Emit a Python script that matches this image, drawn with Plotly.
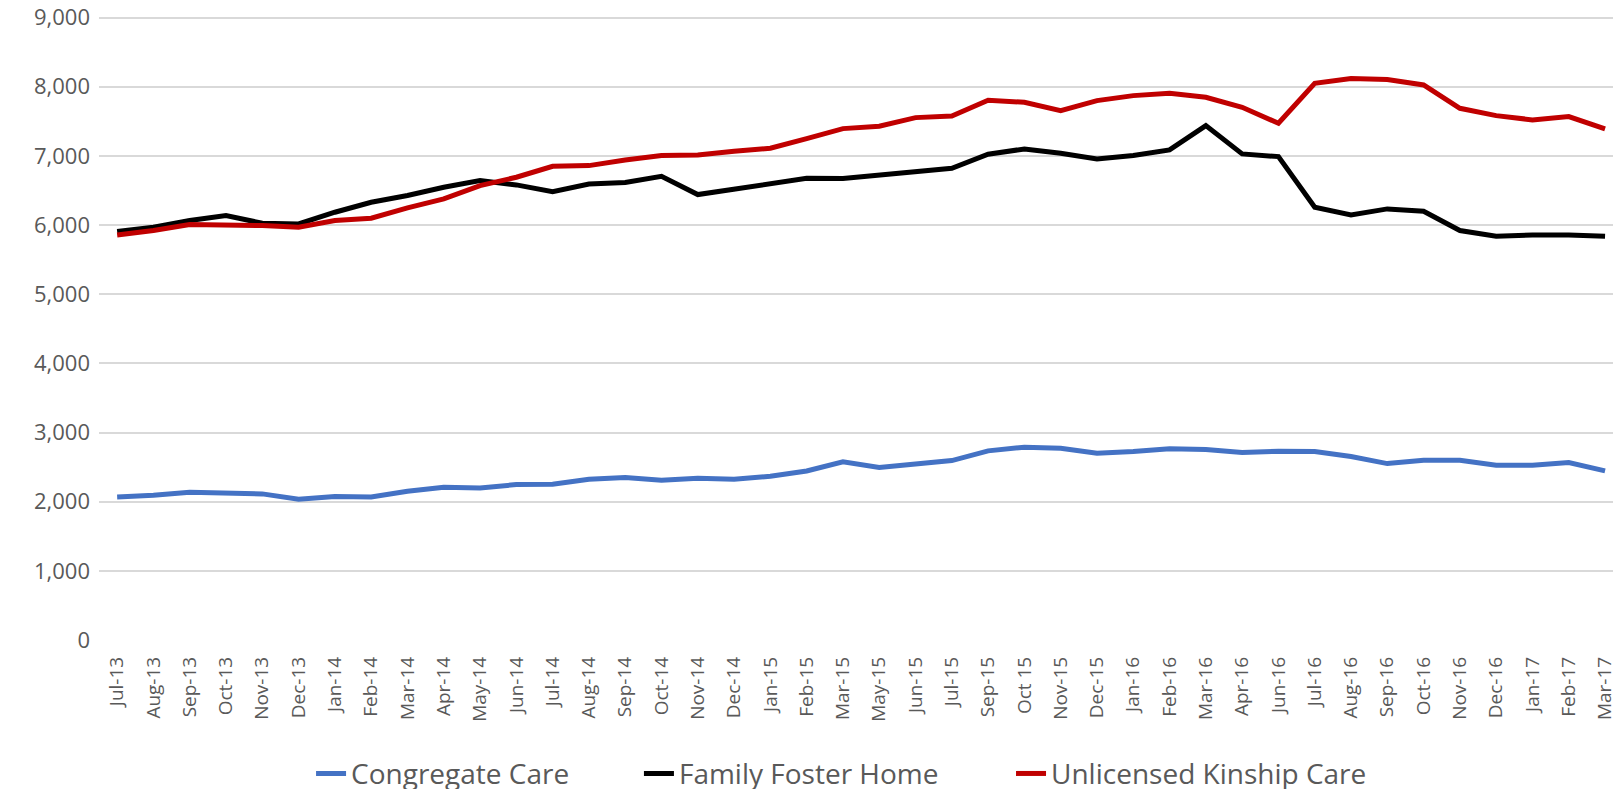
import plotly.graph_objects as go

categories = ["Jul-13", "Aug-13", "Sep-13", "Oct-13", "Nov-13", "Dec-13", "Jan-14", "Feb-14",
              "Mar-14", "Apr-14", "May-14", "Jun-14", "Jul-14", "Aug-14", "Sep-14", "Oct-14",
              "Nov-14", "Dec-14", "Jan-15", "Feb-15", "Mar-15", "May-15", "Jun-15", "Jul-15",
              "Sep-15", "Oct 15", "Nov-15", "Dec-15", "Jan-16", "Feb-16", "Mar-16", "Apr-16",
              "Jun-16", "Jul-16", "Aug-16", "Sep-16", "Oct-16", "Nov-16", "Dec-16", "Jan-17",
              "Feb-17", "Mar-17"]

congregate_care = [2069, 2093, 2137, 2132, 2113, 2035, 2074, 2069, 2151, 2209, 2199, 2248, 2252,
                   2325, 2349, 2310, 2339, 2325, 2368, 2445, 2576, 2494, 2542, 2595, 2735, 2788,
                   2773, 2701, 2725, 2764, 2754, 2711, 2730, 2725, 2653, 2551, 2600, 2600, 2527,
                   2527, 2566, 2445]

family_foster_home = [5906, 5969, 6065, 6137, 6027, 6017, 6186, 6330, 6427, 6547, 6643, 6581, 6484,
                      6595, 6615, 6706, 6441, 6518, 6590, 6677, 6672, 6721, 6759, 6822, 7024, 7101,
                      7039, 6957, 7005, 7087, 7439, 7029, 6990, 6258, 6147, 6234, 6200, 5921, 5839,
                      5858, 5858, 5839]

unlicensed_kinship_care = [5858, 5921, 6007, 6007, 5993, 5969, 6065, 6099, 6248, 6378, 6571, 6692,
                           6851, 6860, 6942, 7005, 7015, 7068, 7111, 7251, 7395, 7429, 7554, 7578,
                           7805, 7776, 7655, 7800, 7872, 7906, 7848, 7704, 7472, 8051, 8118, 8104,
                           8027, 7689, 7583, 7521, 7569, 7390]

series_names = ["Congregate Care", "Family Foster Home", "Unlicensed Kinship Care"]
series_colors = ["#4472C4", "#000000", "#C00000"]
legend_ids = ["legend", "legend2", "legend3"]
legend_x = [0.1386, 0.3529, 0.5961]
y_ticks = [0, 1000, 2000, 3000, 4000, 5000, 6000, 7000, 8000, 9000]

fig = go.Figure()
for name, vals, col, lid in zip(series_names,
                                [congregate_care, family_foster_home, unlicensed_kinship_care],
                                series_colors, legend_ids):
    fig.add_trace(go.Scatter(x=categories, y=vals, mode="lines", name=name, legend=lid,
                             line=dict(color=col, width=5)))

legend_style = dict(orientation="h", xanchor="left", y=-0.214, yanchor="middle",
                    font=dict(size=28, color="#595959", family="Open Sans"),
                    bgcolor="rgba(0,0,0,0)", borderwidth=0)

fig.update_layout(
    width=1621, height=789,
    margin=dict(l=91, r=0, t=7, b=157, autoexpand=False),
    paper_bgcolor="white", plot_bgcolor="white",
    font=dict(family="Open Sans", color="#595959"),
    showlegend=True,
    legend=dict(x=legend_x[0], **legend_style),
    legend2=dict(x=legend_x[1], **legend_style),
    legend3=dict(x=legend_x[2], **legend_style),
    xaxis=dict(type="category", range=[-0.5, 41.66], tickangle=-90, showgrid=False,
               showline=False, ticks="", tickfont=dict(size=19, color="#595959"),
               ticklabelstandoff=12, fixedrange=True),
    yaxis=dict(range=[0, 9038], tickvals=y_ticks, tickformat=",d", showgrid=True,
               gridcolor="#D9D9D9", gridwidth=1.5, zeroline=False, showline=False, ticks="",
               tickfont=dict(size=22, color="#595959"), ticklabelstandoff=8,
               ticklabeloverflow="allow"),
)

fig.write_html("out.html")
